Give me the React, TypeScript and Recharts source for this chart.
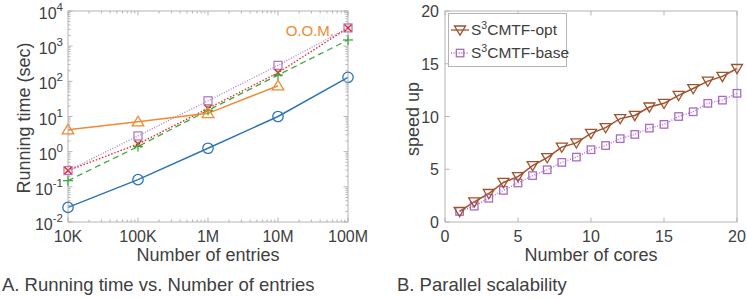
import React from "react";
import { LineChart, Line, XAxis, YAxis } from "recharts";

// ---- panel A: running time vs number of entries ----
const entries = [1e4, 1e5, 1e6, 1e7, 1e8];
const entryLabels = ["10K", "100K", "1M", "10M", "100M"];
const blueTimes = [0.026, 0.16, 1.25, 10, 130];
const orangeTimes = [4.2, 7.1, 12.3, 75, null];
const greenTimes = [0.15, 1.4, 15, 150, 1500];
const redTimes = [0.29, 1.65, 17, 175, 3300];
const purpleTimes = [0.29, 2.8, 28, 285, 3300];

// ---- panel B: parallel scalability ----
const cores = [1, 2, 3, 4, 5, 6, 7, 8, 9, 10, 11, 12, 13, 14, 15, 16, 17, 18, 19, 20];
const optSpeedup = [1.0, 1.9, 2.7, 3.75, 4.3, 5.35, 6.1, 7.1, 7.5, 8.4, 8.95, 9.8, 10.1, 10.9, 11.25, 12.0, 12.65, 13.35, 13.8, 14.55];
const baseSpeedup = [1.0, 1.5, 2.25, 3.0, 3.7, 4.4, 4.95, 5.65, 6.15, 6.85, 7.25, 7.9, 8.3, 8.9, 9.25, 10.0, 10.45, 11.25, 11.55, 12.2];
const coreTicks = [0, 5, 10, 15, 20];
const speedTicks = [0, 5, 10, 15, 20];

const FONT = "'Liberation Sans', Arial, Helvetica, sans-serif";
const TEXT = "#404040";
const AXIS = "#b4b4b4";

const BLUE = "#2e75b6";
const ORANGE = "#f08a33";
const GREEN = "#3da83d";
const RED = "#e0282a";
const PURPLE = "#b27ac9";
const BROWN = "#a0522d";
const PURPLE2 = "#a96bc3";

function logTicks(lo: number, hi: number) {
  const out: number[] = [];
  for (let d = lo; d < hi; d++) {
    for (let k = 1; k < 10; k++) out.push(Number((k * Math.pow(10, d)).toPrecision(3)));
  }
  out.push(Math.pow(10, hi));
  return out;
}
const isDecade = (v: number) => Math.abs(Math.log10(v) - Math.round(Math.log10(v))) < 1e-6;

const timeData = entries.map((e, i) => ({
  n: e,
  blue: blueTimes[i],
  orange: orangeTimes[i],
  green: greenTimes[i],
  red: redTimes[i],
  purple: purpleTimes[i],
}));
const speedData = cores.map((c, i) => ({ c, opt: optSpeedup[i], base: baseSpeedup[i] }));

const M = 8; // tick margin

type Side = "left" | "right" | "top" | "bottom";
function makeTick(side: Side, isMajor: (v: number) => boolean, label?: (v: number, x: number, y: number) => React.ReactNode) {
  return (props: any) => {
    const { x, y, payload } = props;
    const v = payload.value as number;
    const major = isMajor(v);
    const len = major ? 4.5 : 2.5;
    let l = { x1: 0, y1: 0, x2: 0, y2: 0 };
    if (side === "left") l = { x1: x + M, y1: y, x2: x + M + len, y2: y };
    if (side === "right") l = { x1: x - M, y1: y, x2: x - M - len, y2: y };
    if (side === "bottom") l = { x1: x, y1: y - M, x2: x, y2: y - M - len };
    if (side === "top") l = { x1: x, y1: y + M, x2: x, y2: y + M + len };
    return (
      <g>
        <line {...l} stroke={AXIS} strokeWidth={1} />
        {label && major ? label(v, x, y) : null}
      </g>
    );
  };
}

const expLabel = (v: number, x: number, y: number) => {
  const e = Math.round(Math.log10(v));
  return (
    <text x={x + 3} y={y + 8} textAnchor="end" fontSize={16} fill={TEXT} fontFamily={FONT}>
      <tspan>10</tspan>
      <tspan dy={-8} fontSize={11.5}>{e < 0 ? "-" + Math.abs(e) : String(e)}</tspan>
    </text>
  );
};
const entryLabel = (v: number, x: number, y: number) => {
  const i = entries.findIndex((e) => Math.abs(e - v) / e < 1e-6);
  return (
    <text x={x} y={y + 12} textAnchor="middle" fontSize={16} fill={TEXT} fontFamily={FONT}>
      {entryLabels[i]}
    </text>
  );
};
const numLabelLeft = (v: number, x: number, y: number) => (
  <text x={x + 2} y={y + 6} textAnchor="end" fontSize={16} fill={TEXT} fontFamily={FONT}>
    {v}
  </text>
);
const numLabelBottom = (v: number, x: number, y: number) => (
  <text x={x} y={y + 12} textAnchor="middle" fontSize={16} fill={TEXT} fontFamily={FONT}>
    {v}
  </text>
);
const all = () => true;

// ---- markers ----
const ok = (p: any) => p && p.cx != null && p.cy != null && p.value != null && !Number.isNaN(p.cy);
const circle = (c: string) => (p: any) =>
  ok(p) ? <circle key={p.index} cx={p.cx} cy={p.cy} r={5.2} fill="none" stroke={c} strokeWidth={1.3} /> : <g key={p.index} />;
const triUp = (c: string) => (p: any) =>
  ok(p) ? (
    <polygon key={p.index} points={`${p.cx},${p.cy - 5.5} ${p.cx - 5.8},${p.cy + 4.2} ${p.cx + 5.8},${p.cy + 4.2}`} fill="none" stroke={c} strokeWidth={1.3} />
  ) : (
    <g key={p.index} />
  );
const triDown = (c: string) => (p: any) =>
  ok(p) ? (
    <polygon key={p.index} points={`${p.cx - 5.5},${p.cy - 4} ${p.cx + 5.5},${p.cy - 4} ${p.cx},${p.cy + 5.2}`} fill="none" stroke={c} strokeWidth={1.3} />
  ) : (
    <g key={p.index} />
  );
const plus = (c: string) => (p: any) =>
  ok(p) ? (
    <g key={p.index} stroke={c} strokeWidth={1.3}>
      <line x1={p.cx - 5} y1={p.cy} x2={p.cx + 5} y2={p.cy} />
      <line x1={p.cx} y1={p.cy - 5} x2={p.cx} y2={p.cy + 5} />
    </g>
  ) : (
    <g key={p.index} />
  );
const cross = (c: string) => (p: any) =>
  ok(p) ? (
    <g key={p.index} stroke={c} strokeWidth={1.4}>
      <line x1={p.cx - 3.5} y1={p.cy - 3.5} x2={p.cx + 3.5} y2={p.cy + 3.5} />
      <line x1={p.cx - 3.5} y1={p.cy + 3.5} x2={p.cx + 3.5} y2={p.cy - 3.5} />
    </g>
  ) : (
    <g key={p.index} />
  );
const square = (c: string, s: number) => (p: any) =>
  ok(p) ? <rect key={p.index} x={p.cx - s / 2} y={p.cy - s / 2} width={s} height={s} fill="none" stroke={c} strokeWidth={1.3} /> : <g key={p.index} />;

function TimeChart() {
  const yt = logTicks(-2, 4);
  const xt = logTicks(4, 8);
  return (
    <LineChart width={370} height={299} data={timeData} margin={{ top: 10, right: 21, bottom: 0, left: 0 }}>
      <XAxis xAxisId="b" dataKey="n" type="number" scale="log" domain={[1e4, 1e8]} ticks={xt} interval={0}
        tickSize={0} tickMargin={M} height={77} axisLine={{ stroke: AXIS }} tickLine={false}
        tick={makeTick("bottom", isDecade, entryLabel)} />
      <XAxis xAxisId="t" orientation="top" dataKey="n" type="number" scale="log" domain={[1e4, 1e8]} ticks={xt} interval={0}
        tickSize={0} tickMargin={M} height={1} axisLine={{ stroke: AXIS }} tickLine={false}
        tick={makeTick("top", isDecade)} />
      <YAxis yAxisId="l" type="number" scale="log" domain={[0.01, 10000]} ticks={yt} interval={0} allowDataOverflow
        tickSize={0} tickMargin={M} width={68} axisLine={{ stroke: AXIS }} tickLine={false}
        tick={makeTick("left", isDecade, expLabel)} />
      <YAxis yAxisId="r" orientation="right" type="number" scale="log" domain={[0.01, 10000]} ticks={yt} interval={0} allowDataOverflow
        tickSize={0} tickMargin={M} width={1} axisLine={{ stroke: AXIS }} tickLine={false}
        tick={makeTick("right", isDecade)} />
      <Line xAxisId="b" yAxisId="l" dataKey="purple" stroke={PURPLE} strokeWidth={1.3} strokeDasharray="1 1.6" dot={square(PURPLE, 8)} isAnimationActive={false} />
      <Line xAxisId="b" yAxisId="l" dataKey="red" stroke={RED} strokeWidth={1.3} strokeDasharray="1.5 1.8" dot={cross(RED)} isAnimationActive={false} />
      <Line xAxisId="b" yAxisId="l" dataKey="green" stroke={GREEN} strokeWidth={1.3} strokeDasharray="6 4" dot={plus(GREEN)} isAnimationActive={false} />
      <Line xAxisId="b" yAxisId="l" dataKey="orange" stroke={ORANGE} strokeWidth={1.5} dot={triUp(ORANGE)} isAnimationActive={false} />
      <Line xAxisId="b" yAxisId="l" dataKey="blue" stroke={BLUE} strokeWidth={1.5} dot={circle(BLUE)} isAnimationActive={false} />
    </LineChart>
  );
}

function SpeedChart() {
  return (
    <LineChart width={377} height={299} data={speedData} margin={{ top: 10, right: 9, bottom: 0, left: 0 }}>
      <XAxis xAxisId="b" dataKey="c" type="number" domain={[0, 20]} ticks={coreTicks} interval={0}
        tickSize={0} tickMargin={M} height={77} axisLine={{ stroke: AXIS }} tickLine={false}
        tick={makeTick("bottom", all, numLabelBottom)} />
      <XAxis xAxisId="t" orientation="top" dataKey="c" type="number" domain={[0, 20]} ticks={coreTicks} interval={0}
        tickSize={0} tickMargin={M} height={1} axisLine={{ stroke: AXIS }} tickLine={false}
        tick={makeTick("top", all)} />
      <YAxis yAxisId="l" type="number" domain={[0, 20]} ticks={speedTicks} interval={0}
        tickSize={0} tickMargin={M} width={75} axisLine={{ stroke: AXIS }} tickLine={false}
        tick={makeTick("left", all, numLabelLeft)} />
      <YAxis yAxisId="r" orientation="right" type="number" domain={[0, 20]} ticks={speedTicks} interval={0}
        tickSize={0} tickMargin={M} width={1} axisLine={{ stroke: AXIS }} tickLine={false}
        tick={makeTick("right", all)} />
      <Line xAxisId="b" yAxisId="l" dataKey="base" stroke={PURPLE2} strokeWidth={1.3} strokeDasharray="1 1.6" dot={square(PURPLE2, 7.5)} isAnimationActive={false} />
      <Line xAxisId="b" yAxisId="l" dataKey="opt" stroke={BROWN} strokeWidth={1.5} dot={triDown(BROWN)} isAnimationActive={false} />
    </LineChart>
  );
}

const txt: React.CSSProperties = { position: "absolute", color: TEXT, fontFamily: FONT, whiteSpace: "nowrap", lineHeight: 1 };

function LegendRow({ color, dash, kind, label }: { color: string; dash?: string; kind: "tri" | "sq"; label: string }) {
  return (
    <div style={{ display: "flex", alignItems: "center", height: 23, whiteSpace: "nowrap" }}>
      <svg width={20} height={16} style={{ marginRight: 1, flex: "none" }}>
        <line x1={1} y1={8} x2={19} y2={8} stroke={color} strokeWidth={1.3} strokeDasharray={dash} />
        {kind === "tri" ? (
          <polygon points="4.5,4 15.5,4 10,13.2" fill="none" stroke={color} strokeWidth={1.3} />
        ) : (
          <rect x={6.3} y={4.3} width={7.5} height={7.5} fill="none" stroke={color} strokeWidth={1.3} />
        )}
      </svg>
      <span style={{ fontSize: 15.5, color: TEXT, whiteSpace: "nowrap" }}>
        S<sup style={{ fontSize: 10.5, verticalAlign: 0, position: "relative", top: -6 }}>3</sup>CMTF-{label}
      </span>
    </div>
  );
}

export default function App() {
  return (
    <div style={{ position: "absolute", left: 0, top: 0, width: 747, height: 299, background: "#fff", overflow: "hidden", fontFamily: FONT }}>
      <div style={{ position: "absolute", left: 0, top: 0 }}>
        <TimeChart />
      </div>
      <div style={{ position: "absolute", left: 370, top: 0 }}>
        <SpeedChart />
      </div>

      <div style={{ ...txt, left: 254, top: 23, width: 80, textAlign: "right", fontSize: 15, color: ORANGE }}>O.O.M.</div>

      <div style={{ ...txt, left: 24, top: 118, fontSize: 18, transform: "translate(-50%, -50%) rotate(-90deg)" }}>Running time (sec)</div>
      <div style={{ ...txt, left: 208, top: 246, fontSize: 18, transform: "translateX(-50%)" }}>Number of entries</div>
      <div style={{ ...txt, left: 2, top: 276, fontSize: 18.5 }}>A. Running time vs. Number of entries</div>

      <div style={{ ...txt, left: 413, top: 119, fontSize: 18, transform: "translate(-50%, -50%) rotate(-90deg)" }}>speed up</div>
      <div style={{ ...txt, left: 591, top: 246, fontSize: 18, transform: "translateX(-50%)" }}>Number of cores</div>
      <div style={{ ...txt, left: 397, top: 276, fontSize: 18.5 }}>B. Parallel scalability</div>

      <div style={{ position: "absolute", left: 448, top: 13, width: 119, height: 54, border: `1px solid ${AXIS}`, background: "#fff", boxSizing: "border-box", padding: "4px 0 0 1px", fontFamily: FONT }}>
        <LegendRow color={BROWN} kind="tri" label="opt" />
        <LegendRow color={PURPLE2} kind="sq" dash="1 1.6" label="base" />
      </div>
    </div>
  );
}
